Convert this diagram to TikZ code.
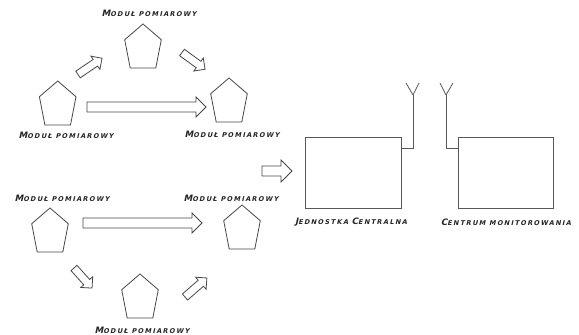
\documentclass[tikz,border=0pt]{standalone}
\usepackage{fontspec}
\newfontfamily\labfont[FakeSlant=0.22, LetterSpace=20]{DejaVu Sans Bold}
\newcommand\caplab[2]{{\labfont{\fontsize{8.8}{8.8}\selectfont #1}{\fontsize{6.6}{6.6}\selectfont #2}}}

\tikzset{
  shapeline/.style={draw=black!72, line width=0.8pt, line join=miter},
  boxline/.style={draw=black!65, line width=0.8pt},
  lab/.style={inner sep=0pt, text=black!85},
  pics/penta/.style={code={
      \coordinate (-apex) at (0,0);
      \coordinate (-c) at (0,24);
      \draw[shapeline] (0,0) -- (18.3,15.7) -- (12.8,44) -- (-12.8,44)
        -- (-18.3,15.7) -- cycle;
  }},
  % block arrow: length, half shaft width, half head width (tip at 90 degrees)
  pics/blockarrow/.style n args={3}{code={
      \coordinate (-tail) at (0,0);
      \coordinate (-tip) at (#1,0);
      \draw[shapeline] (0,#2) -- (#1-#3,#2) -- (#1-#3,#3) -- (#1,0)
        -- (#1-#3,-#3) -- (#1-#3,-#2) -- (0,-#2) -- cycle;
  }},
}

\begin{document}
\begin{tikzpicture}[x=1pt,y=-1pt]
\useasboundingbox (0,0) rectangle (579,335);
\fill[white] (0,0) rectangle (579,335);

% measurement modules, upper group
\pic (mA) at (57.7,81) {penta};
\pic (mB) at (143,24) {penta};
\pic (mC) at (229,78) {penta};
\node[lab] (lA) at (66,135) {\caplab{M}{ODUŁ POMIAROWY}};
\node[lab] (lB) at (149,13.5) {\caplab{M}{ODUŁ POMIAROWY}};
\node[lab] (lC) at (232,134) {\caplab{M}{ODUŁ POMIAROWY}};

\pic[rotate=34] (aAB) at (78,74.5) {blockarrow={29}{4}{8}};
\pic[rotate=-36] (aBC) at (182,52.5) {blockarrow={28.5}{4}{8}};
\pic (aAC) at (87,107) {blockarrow={119}{5}{10}};

% measurement modules, lower group
\pic (mD) at (50,208) {penta};
\pic (mE) at (140,274) {penta};
\pic (mF) at (242,205) {penta};
\node[lab] (lD) at (62,198) {\caplab{M}{ODUŁ POMIAROWY}};
\node[lab] (lE) at (142,330) {\caplab{M}{ODUŁ POMIAROWY}};
\node[lab] (lF) at (231,198) {\caplab{M}{ODUŁ POMIAROWY}};

\pic[rotate=-48] (aDE) at (74,268) {blockarrow={27}{4}{8}};
\pic[rotate=41] (aEF) at (185,297) {blockarrow={29}{4}{8}};
\pic (aDF) at (83,223) {blockarrow={119}{5}{10}};

% data flow to the central unit
\pic (aIn) at (262,171) {blockarrow={30}{5}{11}};

% central unit and monitoring centre with antennas
\node[boxline, minimum width=96pt, minimum height=71pt, inner sep=0pt, anchor=north west]
  (cu) at (305,137) {};
\node[boxline, minimum width=95pt, minimum height=71pt, inner sep=0pt, anchor=north west]
  (mc) at (458,137) {};

\coordinate (antA) at (413,95);
\coordinate (antB) at (446,95);
\draw[boxline] (cu.north east |- 0,148) -- (413,148) -- (antA);
\draw[boxline] (antA) -- ++(-7,-12) (antA) -- ++(6,-12);
\draw[boxline] (mc.north west |- 0,148) -- (446,148) -- (antB);
\draw[boxline] (antB) -- ++(-6,-12) (antB) -- ++(7,-12);

\node[lab] (lcu) at (351,222) {\caplab{J}{EDNOSTKA }\caplab{C}{ENTRALNA}};
\node[lab] (lmc) at (506,222) {\caplab{C}{ENTRUM MONITOROWANIA}};
\end{tikzpicture}
\end{document}
